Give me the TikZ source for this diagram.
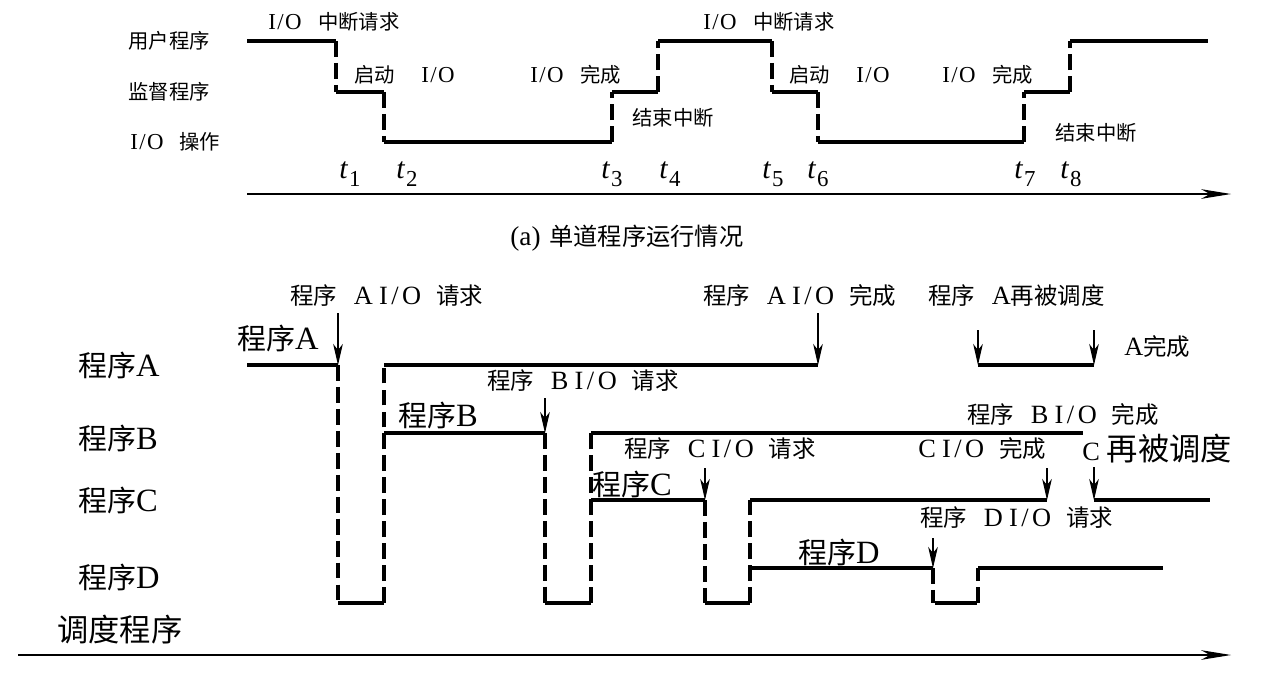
\documentclass[tikz,border=0pt]{standalone}
\usepackage{fontspec}
\setmainfont{Liberation Serif}
\newfontfamily\cjk{Noto Sans CJK SC}[Scale=0.89]
\usetikzlibrary{arrows.meta}
\newcommand\zh[1]{{\cjk #1}}
\newcommand\IO[1][0.8pt]{I\kern#1/\kern#1O}
\newcommand\tl[1]{\textit{t}\kern0.5pt\raisebox{-0.6ex}{\fontsize{13}{13}\selectfont #1}}
\newcommand\prog[3]{\zh{程序}\hspace{9.5pt}#1\hspace{3.5pt}\IO[2pt]\hspace{8.5pt}\zh{#2}}
\begin{document}
\begin{tikzpicture}[x=0.02cm,y=-0.02cm,
  tlbl/.style={inner sep=0,anchor=west,font=\fontsize{13}{15}\selectfont},
  blbl/.style={inner sep=0,anchor=west,font=\fontsize{15}{17}\selectfont},
  big/.style={inner sep=0,anchor=west,font=\fontsize{18.5}{20}\selectfont},
  huge/.style={inner sep=0,anchor=west,font=\fontsize{20}{22}\selectfont},
  tlab/.style={inner sep=0,anchor=center,font=\fontsize{17}{19}\selectfont},
  sig/.style={line width=2pt},
  dsh/.style={line width=2pt,dash pattern=on 9pt off 3.5pt},
  axis/.style={line width=0.7pt,-{Stealth[length=17pt,width=5.5pt,inset=5pt]}},
  arr/.style={line width=0.6pt,-{Stealth[length=12pt,width=5.5pt,inset=3.5pt]}}]
\useasboundingbox (0,0) rectangle (1268,677);

% ---------- top part ----------
\node[tlbl] (u) at (128,41) {\zh{用户程序}};
\node[tlbl] (m) at (128,92) {\zh{监督程序}};
\node[tlbl] (io) at (130,142) {\IO\hspace{9pt}\zh{操作}};

\draw[sig] (247,41) -- (336,41);
\draw[dsh] (336,41) -- (336,92);
\draw[sig] (336,92) -- (384,92);
\draw[dsh] (384,92) -- (384,142);
\draw[sig] (384,142) -- (612,142);
\draw[dsh] (612,142) -- (612,92);
\draw[sig] (612,92) -- (658,92);
\draw[dsh] (658,92) -- (658,41);
\draw[sig] (658,41) -- (772,41);
\draw[dsh] (772,41) -- (772,92);
\draw[sig] (772,92) -- (818,92);
\draw[dsh] (818,92) -- (818,142);
\draw[sig] (818,142) -- (1024,142);
\draw[dsh] (1024,142) -- (1024,92);
\draw[sig] (1024,92) -- (1070,92);
\draw[dsh] (1070,92) -- (1070,41);
\draw[sig] (1070,41) -- (1208,41);

\node[tlbl] (r1) at (268,22) {\IO\hspace{9.5pt}\zh{中断请求}};
\node[tlbl] (s1) at (354,75) {\zh{启动}\hspace{15pt}\IO};
\node[tlbl] (c1) at (530,75) {\IO\hspace{9.5pt}\zh{完成}};
\node[tlbl] (e1) at (632,118) {\zh{结束中断}};
\node[tlbl] (r2) at (703,22) {\IO\hspace{9.5pt}\zh{中断请求}};
\node[tlbl] (s2) at (789,75) {\zh{启动}\hspace{15pt}\IO};
\node[tlbl] (c2) at (942,75) {\IO\hspace{9.5pt}\zh{完成}};
\node[tlbl] (e2) at (1055,133) {\zh{结束中断}};

\node[tlab] (t1) at (350,174) {\tl{1}};
\node[tlab] (t2) at (407,174) {\tl{2}};
\node[tlab] (t3) at (612,174) {\tl{3}};
\node[tlab] (t4) at (670,174) {\tl{4}};
\node[tlab] (t5) at (773,174) {\tl{5}};
\node[tlab] (t6) at (818,174) {\tl{6}};
\node[tlab] (t7) at (1025,174) {\tl{7}};
\node[tlab] (t8) at (1071,174) {\tl{8}};

\coordinate (ax1s) at (247,194);
\coordinate (ax1e) at (1231,194);
\draw[axis] (ax1s) -- (ax1e);

\node[inner sep=0,anchor=west,font=\fontsize{15.5}{18}\selectfont] (cap) at (510,238) {(a)\hspace{5pt}\zh{单道程序运行情况}};

% ---------- bottom part ----------
\node[big] (pa) at (78,365) {\zh{程序}A};
\node[big] (pb) at (78,438) {\zh{程序}B};
\node[big] (pc) at (78,500) {\zh{程序}C};
\node[big] (pd) at (78,577) {\zh{程序}D};
\node[huge] (sch) at (57,630) {\zh{调度程序}};

% program A
\draw[sig] (247,365) -- (338,365);
\draw[dsh] (338,365) -- (338,603);
\draw[sig] (338,603) -- (384,603);
\draw[dsh] (384,603) -- (384,365);
\draw[sig] (384,365) -- (818,365);
\draw[sig] (978,365) -- (1094,365);
% program B
\draw[sig] (384,433) -- (545,433);
\draw[dsh] (545,433) -- (545,603);
\draw[sig] (545,603) -- (591,603);
\draw[dsh] (591,603) -- (591,433);
\draw[sig] (591,433) -- (1083,433);
% program C
\draw[sig] (591,500) -- (705,500);
\draw[dsh] (705,500) -- (705,603);
\draw[sig] (705,603) -- (750,603);
\draw[dsh] (750,603) -- (750,500);
\draw[sig] (750,500) -- (1047,500);
\draw[sig] (1094,500) -- (1210,500);
% program D
\draw[sig] (750,568) -- (933,568);
\draw[dsh] (933,568) -- (933,603);
\draw[sig] (935,603) -- (977,603);
\draw[dsh] (978,603) -- (978,568);
\draw[sig] (978,568) -- (1163,568);

% arrows
\draw[arr] (338,313) -- (338,365);
\draw[arr] (818,313) -- (818,365);
\draw[arr] (978,330) -- (978,365);
\draw[arr] (1094,330) -- (1094,365);
\draw[arr] (545,398) -- (545,433);
\draw[arr] (705,468) -- (705,500);
\draw[arr] (1047,468) -- (1047,500);
\draw[arr] (1094,467) -- (1094,500);
\draw[arr] (933,538) -- (933,568);

% labels
\node[blbl] (la1) at (290,296) {\prog{A}{请求}{}};
\node[big] (la2) at (237,338) {\zh{程序}A};
\node[blbl] (la3) at (703,296) {\prog{A}{完成}{}};
\node[blbl] (la4) at (928,296) {\zh{程序}\hspace{9.5pt}A\zh{再被调度}};
\node[blbl] (la5) at (1124,347) {A\zh{完成}};
\node[blbl] (lb1) at (487,381) {\prog{B}{请求}{}};
\node[big] (lb2) at (398,415) {\zh{程序}B};
\node[blbl] (lb3) at (967,415) {\prog{B}{完成}{}};
\node[blbl] (lc1) at (624,449) {\prog{C}{请求}{}};
\node[big] (lc2) at (592,484) {\zh{程序}C};
\node[blbl] (lc3) at (918,449) {C\hspace{3.5pt}\IO[2pt]\hspace{8.5pt}\zh{完成}};
\node[blbl] (lc4) at (1082,449) {C\hspace{4pt}{\fontsize{20}{22}\selectfont\zh{再被调度}}};
\node[big] (ld2) at (798,552) {\zh{程序}D};
\node[blbl] (ld1) at (920,518) {\prog{D}{请求}{}};

\coordinate (ax2s) at (18,655);
\coordinate (ax2e) at (1231,655);
\draw[axis] (ax2s) -- (ax2e);
\end{tikzpicture}
\end{document}
